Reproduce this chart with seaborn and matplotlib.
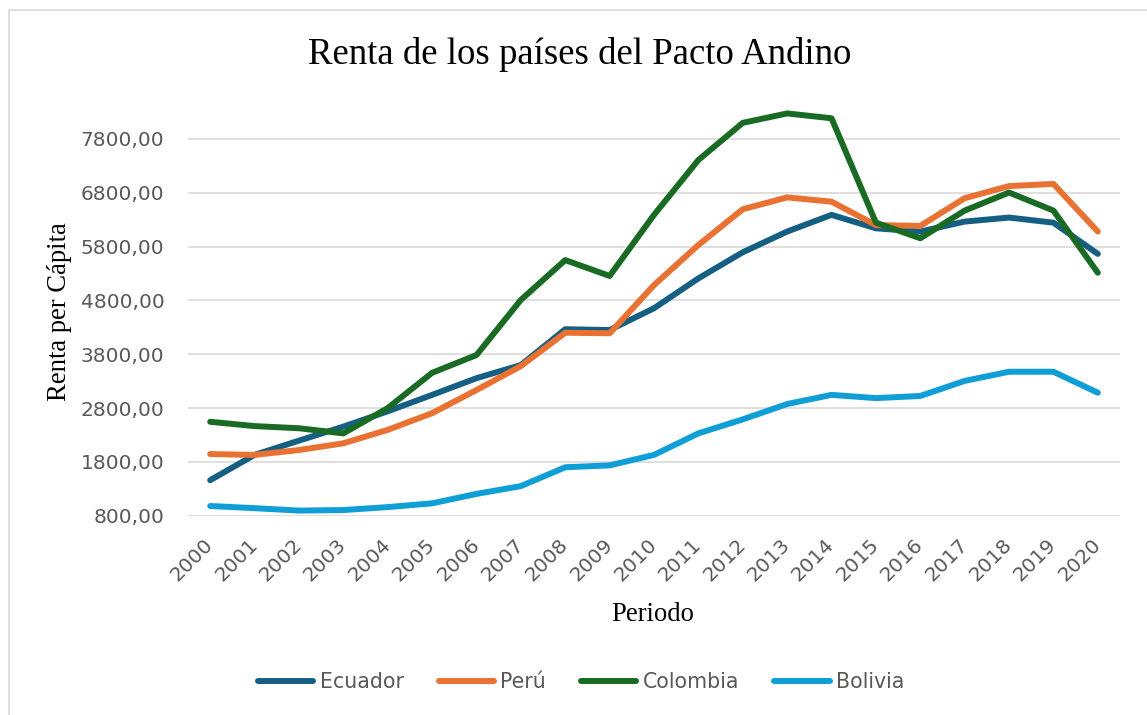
import matplotlib
matplotlib.use("Agg")
import matplotlib.pyplot as plt
from matplotlib.patches import Rectangle
from matplotlib.ticker import FuncFormatter
import pandas
import seaborn

years = list(range(2000, 2021))
ecuador = [1460, 1930, 2195, 2455, 2740, 3045, 3355, 3600, 4265, 4250, 4655,
           5210, 5695, 6080, 6390, 6140, 6080, 6265, 6340, 6245, 5665]
peru = [1945, 1930, 2020, 2145, 2395, 2705, 3135, 3580, 4200, 4190, 5085,
        5830, 6495, 6715, 6635, 6200, 6185, 6700, 6925, 6965, 6080]
colombia = [2545, 2465, 2425, 2330, 2800, 3455, 3785, 4810, 5550, 5255, 6390,
            7410, 8100, 8275, 8185, 6245, 5955, 6470, 6805, 6470, 5315]
bolivia = [980, 940, 895, 905, 960, 1030, 1205, 1350, 1700, 1735, 1930,
           2330, 2590, 2875, 3045, 2985, 3025, 3305, 3475, 3475, 3085]
countries = ["Ecuador", "Perú", "Colombia", "Bolivia"]
colors = ["#156082", "#E97132", "#196B24", "#0F9ED5"]
y_ticks = [800, 1800, 2800, 3800, 4800, 5800, 6800, 7800]

frames = []
for name, vals in zip(countries, [ecuador, peru, colombia, bolivia]):
    frames.append(pandas.DataFrame({"Periodo": years, "Renta": vals, "Pais": name}))
df = pandas.concat(frames, ignore_index=True)

seaborn.set_style("white")
plt.rcParams["font.family"] = ["DejaVu Sans"]
serif = ["Liberation Serif", "DejaVu Serif"]
grey = "#595959"

fig = plt.figure(figsize=(11.47, 7.15), dpi=100)
ax = fig.add_axes([188 / 1147, 1 - 515.7 / 715, (1120 - 188) / 1147, (515.7 - 106.7) / 715])

seaborn.lineplot(data=df, x="Periodo", y="Renta", hue="Pais", hue_order=countries,
                 palette=colors, linewidth=4.3, ax=ax, legend=True,
                 solid_capstyle="round", solid_joinstyle="round")

ax.set_xlim(1999.5, 2020.5)
ax.set_ylim(800, 8400)
ax.set_yticks(y_ticks)
ax.yaxis.set_major_formatter(FuncFormatter(lambda v, p: f"{v:.2f}".replace(".", ",")))
ax.set_xticks(years)
ax.set_xticklabels([str(y) for y in years], rotation=45, ha="right", va="center",
                   rotation_mode="anchor")
ax.tick_params(axis="both", length=0, labelsize=14.5, labelcolor=grey)
ax.tick_params(axis="y", pad=17)
ax.tick_params(axis="x", pad=19)
ax.grid(axis="y", color="#d9d9d9", linewidth=1.2)
ax.set_axisbelow(True)
for s in ax.spines.values():
    s.set_visible(False)
ax.set_xlabel("")
ax.set_ylabel("")

handles, labels = ax.get_legend_handles_labels()
ax.get_legend().remove()
for h in handles:
    h.set_solid_capstyle("round")
fig.legend(handles, labels, loc="center", bbox_to_anchor=(581 / 1147, 1 - 682 / 715),
           ncol=4, frameon=False, fontsize=14.8, handlelength=2.7, handletextpad=0.3,
           columnspacing=1.7, labelcolor=grey)

fig.text(580 / 1147, 1 - 64.5 / 715, "Renta de los países del Pacto Andino",
         ha="center", va="baseline", fontsize=26.5, family=serif, color="black")
fig.text(653 / 1147, 1 - 620.7 / 715, "Periodo", ha="center", va="baseline",
         fontsize=19.2, family=serif, color="black")
fig.text(59 / 1147, 1 - 312 / 715, "Renta per Cápita", ha="center", va="center",
         rotation=90, fontsize=19.2, family=serif, color="black")

fig.patches.append(Rectangle((9 / 1147, -0.05), 1.1, 1 - 10 / 715 + 0.05,
                             transform=fig.transFigure, fill=False,
                             edgecolor="#d9d9d9", linewidth=1.2))

fig.savefig("out.png", dpi=100)
